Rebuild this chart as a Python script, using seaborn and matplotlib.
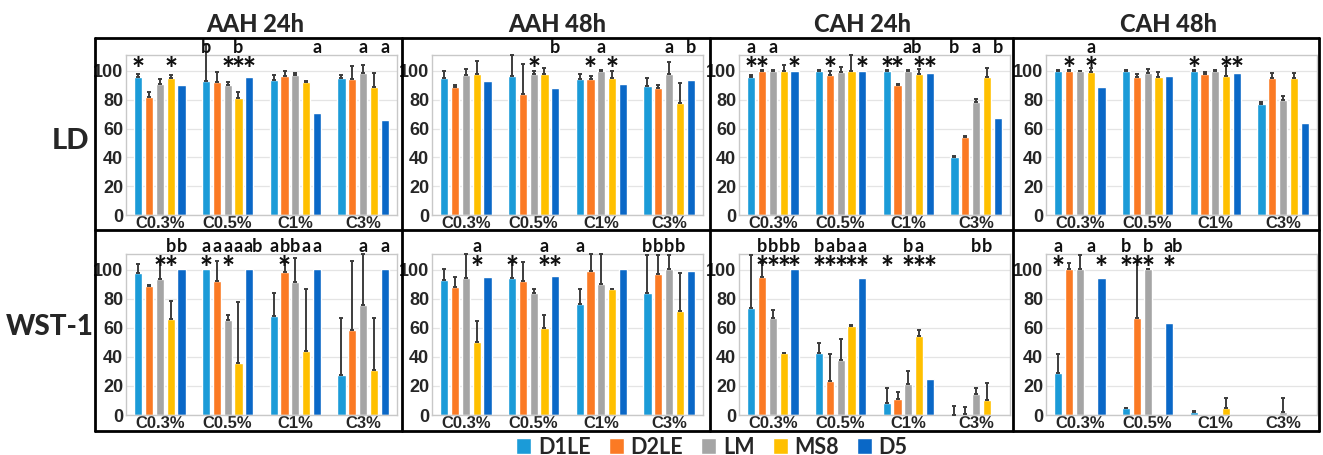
import numpy as np
import pandas as pd
import seaborn as sns
import matplotlib.pyplot as plt
from matplotlib.lines import Line2D

concs = ["C0.3%", "C0.5%", "C1%", "C3%"]
strains = ["D1LE", "D2LE", "LM", "MS8", "D5"]
colors = ["#1b9bd8", "#fb7a24", "#a5a5a5", "#ffc000", "#0a68c7"]
col_titles = ["AAH 24h", "AAH 48h", "CAH 24h", "CAH 48h"]
row_titles = ["LD", "WST-1"]
yticks = [0, 20, 40, 60, 80, 100]

# one row per concentration, one column per strain
ld_aah24 = [[95.4, 82.2, 91.2, 94.7, 90.3], [92.8, 92.6, 90.3, 81.0, 95.4],
            [93.8, 96.3, 96.8, 92.4, 70.8], [95.1, 94.4, 98.4, 88.9, 66.0]]
ld_aah24_err = [[2.3, 2.8, 3.0, 2.1, 0], [26, 6.4, 2.3, 4.0, 0],
                [3.0, 3.5, 2.0, 0.6, 0], [1.7, 9.3, 5.6, 9.9, 0]]
ld_aah24_star = [["*", "", "", "*", ""], ["", "", "*", "*", "*"], ["", "", "", "", ""], ["", "", "", "", ""]]
ld_aah24_let = [["", "", "", "", ""], ["b", "", "", "b", ""], ["", "", "", "", "a"], ["", "", "a", "", "a"]]

ld_aah48 = [[95.3, 88.6, 97.4, 98.1, 93.3], [96.3, 84.2, 97.9, 97.9, 87.9],
            [94.2, 94.2, 100, 95.3, 90.9], [89.5, 87.9, 98.1, 77.9, 94.0]]
ld_aah48_err = [[4.7, 1.9, 3.6, 8.6, 0], [15, 20.7, 2.3, 4.0, 0],
                [3.9, 2.3, 0.5, 4.5, 0], [5.2, 2.6, 7.7, 14.0, 0]]
ld_aah48_star = [["", "", "", "", ""], ["", "", "*", "", ""], ["", "*", "", "*", ""], ["", "", "", "", ""]]
ld_aah48_let = [["", "", "", "", ""], ["", "", "", "", "b"], ["", "", "a", "", ""], ["", "", "a", "", "b"]]

ld_cah24 = [[95.8, 100, 100, 99.8, 100], [100, 96.8, 99.5, 99.8, 100],
            [100, 90.0, 100, 97.7, 98.6], [40.3, 53.9, 78.7, 96.0, 67.6]]
ld_cah24_err = [[1.0, 0.5, 0.5, 4.2, 0], [0.5, 3.2, 3.0, 11.5, 0],
                [0.5, 1.0, 0.5, 3.3, 0], [0.7, 0.7, 2.1, 5.9, 0]]
ld_cah24_star = [["*", "*", "", "", "*"], ["", "*", "", "", "*"], ["*", "*", "", "*", "*"], ["", "", "", "", ""]]
ld_cah24_let = [["a", "", "a", "", ""], ["", "", "", "", ""], ["", "", "ab", "", ""], ["b", "", "a", "", "b"]]

ld_cah48 = [[100, 100, 99.8, 99.3, 88.7], [100, 95.8, 98.8, 95.4, 96.3],
            [100, 98.1, 100, 96.3, 98.6], [77.3, 94.9, 79.6, 94.9, 63.9]]
ld_cah48_err = [[0.5, 0.5, 0.3, 3.0, 0], [0.3, 1.7, 2.6, 4.1, 0],
                [0.5, 1.4, 0.3, 7.0, 0], [1.2, 3.9, 3.0, 3.9, 0]]
ld_cah48_star = [["", "*", "", "*", ""], ["", "", "", "", ""], ["*", "", "", "*", "*"], ["", "", "", "", ""]]
ld_cah48_let = [["", "", "", "a", ""], ["", "", "", "", ""], ["", "", "", "", ""], ["", "", "", "", ""]]

wst_aah24 = [[97.9, 89.0, 94.0, 66.0, 100.5], [100.5, 92.4, 65.5, 35.6, 100.5],
             [68.3, 98.9, 91.7, 44.1, 100.5], [27.4, 58.6, 75.9, 30.8, 100.5]]
wst_aah24_err = [[6.1, 0.7, 12, 12.9, 0], [0, 13.6, 3.7, 42.4, 0],
                 [15.6, 6.8, 16.3, 43, 0], [39.7, 47.8, 35, 35.9, 0]]
wst_aah24_star = [["", "", "*", "*", ""], ["*", "", "*", "", ""], ["", "*", "", "", ""], ["", "", "", "", ""]]
wst_aah24_let = [["", "", "", "b", "b"], ["a", "a", "a", "a", "ab"], ["a", "b", "b", "a", "a"], ["", "", "a", "", "a"]]

wst_aah48 = [[93.1, 88.3, 94.3, 50.6, 95.0], [94.5, 92.4, 83.9, 59.8, 95.9],
             [76.6, 99.5, 90.3, 86.7, 100.5], [84.4, 97.0, 100.5, 71.5, 99.1]]
wst_aah48_err = [[7.4, 7.1, 17, 14.4, 0], [11, 13.1, 2.8, 9.2, 0],
                 [10.1, 11.5, 20.7, 0.4, 0], [26, 13.3, 10, 26.7, 0]]
wst_aah48_star = [["", "", "", "*", ""], ["*", "", "", "*", "*"], ["", "", "", "", ""], ["", "", "", "", ""]]
wst_aah48_let = [["", "", "", "a", ""], ["", "", "", "a", ""], ["a", "", "", "", ""], ["b", "b", "b", "b", ""]]

wst_cah24 = [[73.6, 95.0, 66.7, 42.5, 100.5], [43.0, 23.7, 37.9, 61.4, 94.7],
             [8.0, 11.0, 21.4, 54.5, 24.8], [0.3, 0.5, 14.5, 10.3, 0]]
wst_cah24_err = [[36.7, 9.6, 5.5, 0.5, 0], [6.4, 18.3, 14.3, 0.6, 0],
                 [10.4, 4.6, 8.7, 4.1, 0], [6.1, 4.8, 4.1, 12.0, 0]]
wst_cah24_star = [["", "*", "*", "*", "*"], ["*", "*", "*", "*", "*"], ["*", "", "*", "*", "*"], ["", "", "", "", ""]]
wst_cah24_let = [["", "b", "b", "b", "b"], ["b", "a", "b", "a", "a"], ["", "", "b", "a", ""], ["", "", "b", "b", ""]]

wst_cah48 = [[28.7, 100.5, 100.5, 0, 94.3], [4.6, 66.9, 100.5, 0, 63.7],
             [2.3, 0, 0, 5.0, 0], [0, 0, 2.3, 0, 0]]
wst_cah48_err = [[13.3, 4.1, 9.5, 0, 0], [0.4, 38.8, 0.2, 0, 0],
                 [0.5, 0, 0, 6.5, 0], [0, 0, 9.2, 0, 0]]
wst_cah48_star = [["*", "", "", "", "*"], ["*", "*", "*", "", "*"], ["", "", "", "", ""], ["", "", "", "", ""]]
wst_cah48_let = [["a", "", "", "a", ""], ["b", "", "b", "", "ab"], ["", "", "", "", ""], ["", "", "", "", ""]]

panels = [
    [(ld_aah24, ld_aah24_err, ld_aah24_star, ld_aah24_let),
     (ld_aah48, ld_aah48_err, ld_aah48_star, ld_aah48_let),
     (ld_cah24, ld_cah24_err, ld_cah24_star, ld_cah24_let),
     (ld_cah48, ld_cah48_err, ld_cah48_star, ld_cah48_let)],
    [(wst_aah24, wst_aah24_err, wst_aah24_star, wst_aah24_let),
     (wst_aah48, wst_aah48_err, wst_aah48_star, wst_aah48_let),
     (wst_cah24, wst_cah24_err, wst_cah24_star, wst_cah24_let),
     (wst_cah48, wst_cah48_err, wst_cah48_star, wst_cah48_let)],
]

sns.set_style("white")
plt.rcParams["font.family"] = ["Lato", "DejaVu Sans"]
tickfont = ["Liberation Sans Narrow", "Liberation Sans", "DejaVu Sans"]

W, H = 1323, 455
fig = plt.figure(figsize=(W / 100, H / 100), dpi=100)

def px_box(l, t, r, b):
    return [l / W, 1 - b / H, (r - l) / W, (b - t) / H]

lefts = [126, 432, 739, 1046]
rows_tb = [(55, 215), (254, 415)]

for r in range(2):
    for c in range(4):
        vals, errs, stars, lets = panels[r][c]
        t, b = rows_tb[r]
        ax = fig.add_axes(px_box(lefts[c], t, lefts[c] + 271, b))
        df = pd.DataFrame({
            "conc": np.repeat(concs, len(strains)),
            "strain": strains * len(concs),
            "val": np.array(vals).ravel(),
        })
        sns.barplot(data=df, x="conc", y="val", hue="strain", order=concs,
                    hue_order=strains, palette=colors, saturation=1, gap=0.25,
                    errorbar=None, legend=(r == 0 and c == 0), ax=ax)
        if r == 0 and c == 0:
            handles, labels = ax.get_legend_handles_labels()
            ax.get_legend().remove()
        ax.set_ylim(0, 111)
        ax.set_xlim(-0.5, 3.5)
        ax.set_yticks(yticks)
        ax.set_xlabel("")
        ax.set_ylabel("")
        ax.yaxis.grid(True, color="#e4e4e4", lw=0.9)
        ax.set_axisbelow(True)
        for s in ax.spines.values():
            s.set_color("#c8c8c8")
            s.set_linewidth(1.0)
        ax.tick_params(length=0, pad=2)
        for lab in ax.get_yticklabels():
            lab.set_fontfamily(tickfont)
            lab.set_fontweight("bold")
            lab.set_fontsize(13)
        for lab in ax.get_xticklabels():
            lab.set_fontfamily(tickfont)
            lab.set_fontweight("bold")
            lab.set_fontsize(12)
        ax.tick_params(axis="x", pad=1)

        trans = ax.get_xaxis_transform()
        bar_conts = list(ax.containers)
        for si, cont in enumerate(bar_conts):
            bars = sorted(cont.patches, key=lambda p: p.get_x())
            xs = np.array([p.get_x() + p.get_width() / 2 for p in bars])
            ys = np.array([vals[g][si] for g in range(len(concs))])
            es = np.array([errs[g][si] for g in range(len(concs))])
            m = es > 0
            if m.any():
                ax.errorbar(xs[m], ys[m], yerr=[np.zeros(m.sum()), es[m]], fmt="none",
                            ecolor="#3c3c3c", elinewidth=1.4, capsize=1.6,
                            capthick=1.4, clip_on=False, zorder=3)
            for g in range(len(concs)):
                if stars[g][si]:
                    ax.text(xs[g], 0.85, stars[g][si], transform=trans, ha="center",
                            va="baseline", fontsize=22, fontweight="black", color="#111111")
                lab = lets[g][si]
                if lab:
                    # two-letter labels sit a little to the right, as in the source
                    dx = 0.05 if len(lab) > 1 else 0
                    ax.text(xs[g] + dx, 1.01, lab, transform=trans, ha="center",
                            va="baseline", fontsize=13, fontweight="bold", color="#111111")

# black frame and dividers
frame_l, frame_r, frame_t, frame_m, frame_b = 95, 1319, 38, 230, 431
def fline(x0, y0, x1, y1):
    fig.add_artist(Line2D([x0 / W, x1 / W], [1 - y0 / H, 1 - y1 / H], color="black", lw=2))
fline(frame_l, frame_t, frame_r, frame_t)
fline(frame_l, frame_b, frame_r, frame_b)
fline(frame_l, frame_t, frame_l, frame_b)
fline(frame_r, frame_t, frame_r, frame_b)
fline(frame_l, frame_m, frame_r, frame_m)
for xd in [402, 710, 1013]:
    fline(xd, frame_t, xd, frame_b)

title_x = [255, 557, 862, 1168]
for c in range(4):
    fig.text(title_x[c] / W, 1 - 25 / H, col_titles[c], ha="center", va="center",
             fontsize=17, fontweight="black")
fig.text(71 / W, 1 - 141 / H, row_titles[0], ha="center", va="center", fontsize=21, fontweight="black")
fig.text(50 / W, 1 - 327 / H, row_titles[1], ha="center", va="center", fontsize=20, fontweight="black")

fig.legend(handles, labels, loc="center", bbox_to_anchor=(712 / W, 1 - 447 / H), ncol=5,
           frameon=False, handlelength=0.7, handleheight=0.7, handletextpad=0.3,
           columnspacing=0.85, prop={"weight": "bold", "size": 15.5}, borderpad=0)

fig.savefig("out.png", dpi=100)
